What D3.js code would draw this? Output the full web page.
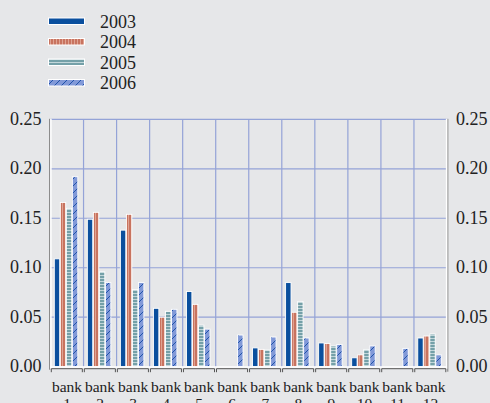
<!DOCTYPE html>
<html><head><meta charset="utf-8">
<script src="https://cdn.jsdelivr.net/npm/d3@7"></script>
</head>
<body style="margin:0;background:#e6e7e9">
<svg id="c" width="490" height="403" font-family="Liberation Serif" style="display:block;font-family:'Liberation Serif'"></svg>
<script>
const categories = ["1","2","3","4","5","6","7","8","9","10","11","12"];
const seriesNames = ["2003","2004","2005","2006"];
const v2003 = [0.109,0.149,0.138,0.059,0.076,0,0.019,0.085,0.024,0.009,0,0.029];
const v2004 = [0.166,0.156,0.154,0.050,0.063,0,0.0175,0.055,0.0235,0.012,0,0.031];
const v2005 = [0.160,0.096,0.078,0.056,0.042,0,0.017,0.066,0.021,0.0175,0,0.033];
const v2006 = [0.192,0.085,0.085,0.058,0.038,0.032,0.030,0.029,0.0225,0.021,0.0185,0.012];
const yTicks = [0,0.05,0.10,0.15,0.20,0.25];

(function(){
const series = [v2003,v2004,v2005,v2006];
const fills = ["url(#p2003)","url(#p2004)","url(#p2005)","url(#p2006)"];
const FF = '"Liberation Serif"';

const svg = d3.select("#c");
const W=490,H=403;
svg.append("rect").attr("width",W).attr("height",H).attr("fill","#e6e7e9");

const defs = svg.append("defs");
let p = defs.append("pattern").attr("id","p2003").attr("patternUnits","userSpaceOnUse").attr("width",4).attr("height",4);
p.append("rect").attr("width",4).attr("height",4).attr("fill","#0a4f9e");
p = defs.append("pattern").attr("id","p2004").attr("patternUnits","userSpaceOnUse").attr("width",3).attr("height",3);
p.append("rect").attr("width",3).attr("height",3).attr("fill","#c8735f");
p.append("rect").attr("x",2).attr("width",1).attr("height",3).attr("fill","#dfa393");
p = defs.append("pattern").attr("id","p2005").attr("patternUnits","userSpaceOnUse").attr("width",3).attr("height",3);
p.append("rect").attr("width",3).attr("height",3).attr("fill","#74a0a8");
p.append("rect").attr("y",2).attr("width",3).attr("height",1).attr("fill","#c2d6da");
p = defs.append("pattern").attr("id","p2006").attr("patternUnits","userSpaceOnUse").attr("width",7).attr("height",7);
p.append("rect").attr("width",7).attr("height",7).attr("fill","#8199d8");
p.append("path").attr("d","M0,7 L7,0 M-1,1 L1,-1 M6,8 L8,6").attr("stroke","#1f52aa").attr("stroke-width",1);

const pl=50.5, pr=447, pt=119.3, pb=366.7;
const x0 = d3.scaleBand().domain(categories).range([pl,pr]).padding(0);
const cw = x0.bandwidth();
const x1 = d3.scaleBand().domain(seriesNames).range([3.5, 27.6]).padding(0);
const y = d3.scaleLinear().domain([0,0.25]).range([pb,pt]);

const grid = svg.append("g").attr("stroke","#8c9cd6").attr("stroke-width",1.2).attr("opacity",0.9);
yTicks.filter(t=>t>0).forEach(t=>{
  grid.append("line").attr("x1",pl).attr("x2",pr).attr("y1",y(t)).attr("y2",y(t));
});
categories.slice(1).forEach(c=>{
  grid.append("line").attr("x1",x0(c)).attr("x2",x0(c)).attr("y1",pt).attr("y2",pb);
});

const gb = svg.append("g");
categories.forEach((c,i)=>{
  series.forEach((s,j)=>{
    const v=s[i];
    if(v<=0) return;
    gb.append("rect")
      .attr("x",x0(c)+x1(seriesNames[j])+0.3)
      .attr("width",x1.bandwidth()-0.6)
      .attr("y",y(v))
      .attr("height",y(0)-y(v))
      .attr("fill",fills[j])
      .attr("stroke","#ffffff").attr("stroke-width",0.9);
  });
});

svg.append("line").attr("x1",pl-0.8).attr("x2",pl-0.8).attr("y1",pt-0.5).attr("y2",pb+3).attr("stroke","#777").attr("stroke-width",1);
svg.append("line").attr("x1",pl+0.4).attr("x2",pl+0.4).attr("y1",pt-0.5).attr("y2",pb+2).attr("stroke","#fff").attr("stroke-width",1.5);
svg.append("line").attr("x1",pr+0.8).attr("x2",pr+0.8).attr("y1",pt-0.5).attr("y2",pb+5).attr("stroke","#777").attr("stroke-width",1);
svg.append("line").attr("x1",pr-0.4).attr("x2",pr-0.4).attr("y1",pt-0.5).attr("y2",pb+2).attr("stroke","#fff").attr("stroke-width",1.5);
svg.append("line").attr("x1",pl).attr("x2",pr).attr("y1",pb+0.3).attr("y2",pb+0.3).attr("stroke","#fff").attr("stroke-width",1.5);
const ax = svg.append("g").attr("fill","none").attr("stroke","#555").attr("stroke-width",1);
categories.forEach(c=>{
  const a=x0(c)+0.8, b=x0(c)+cw-1.2;
  ax.append("path").attr("d",`M${a},${pb+5.5}V${pb+2}H${b}V${pb+5.5}`);
});

function txt(x,yy,s,size,anchor){
  return svg.append("text").attr("x",x).attr("y",yy).attr("font-family",FF)
    .style("font-family","'Liberation Serif'")
    .attr("font-size",size).attr("fill","#222").attr("text-anchor",anchor).text(s);
}
yTicks.forEach(t=>{
  txt(41.5, y(t)+5.5, d3.format(".2f")(t), 18, "end");
  txt(456, y(t)+5.5, d3.format(".2f")(t), 18, "start");
});
categories.forEach(c=>{
  const cx=x0(c)+cw/2;
  txt(cx, 391.5, "bank", 15.5, "middle");
  txt(cx, 408.5, c, 15.5, "middle");
});

seriesNames.forEach((n,j)=>{
  const yy = 18 + j*20.5;
  svg.append("rect").attr("x",48.5).attr("y",yy).attr("width",36).attr("height",6.5)
    .attr("fill",fills[j]).attr("stroke","#fff").attr("stroke-width",1);
  txt(100, yy+9.5, n, 18, "start");
});
})();
</script></body></html>
